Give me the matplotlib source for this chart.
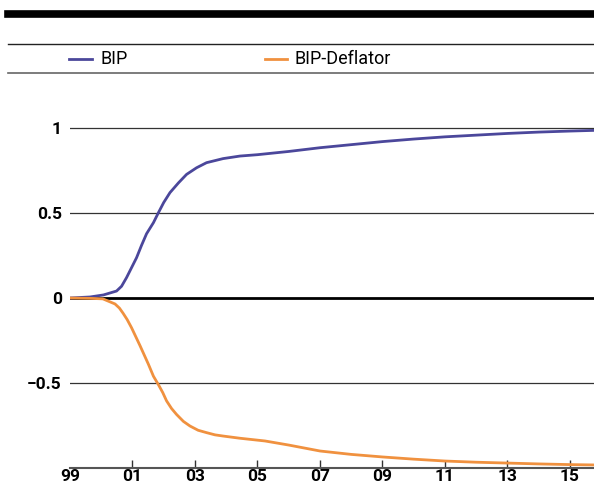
import matplotlib
matplotlib.use("Agg")
import matplotlib.pyplot as plt
from matplotlib import font_manager
from matplotlib.lines import Line2D

# years after 1999Q1
bip_years = [0, 0.64, 1.07, 1.49, 1.65, 1.81, 2.13, 2.29, 2.45, 2.67, 2.83, 3.0,
             3.2, 3.47, 3.73, 4.05, 4.37, 4.9, 5.44, 6, 7, 8, 9, 10, 11, 12, 13,
             14, 15, 16, 16.77]
bip = [0, 0.006, 0.018, 0.041, 0.069, 0.12, 0.237, 0.31, 0.378, 0.443, 0.502,
       0.562, 0.62, 0.677, 0.727, 0.766, 0.796, 0.82, 0.835, 0.843, 0.862, 0.884,
       0.902, 0.92, 0.935, 0.948, 0.958, 0.968, 0.976, 0.982, 0.986]
defl_years = [0, 0.64, 1.05, 1.44, 1.58, 1.7, 1.83, 1.97, 2.24, 2.51, 2.67, 2.83,
              2.97, 3.09, 3.25, 3.41, 3.63, 3.84, 4.1, 4.37, 4.64, 4.9, 5.44, 6.24,
              7, 8, 9, 10, 11, 12, 13, 14, 15, 16, 16.77]
deflator = [0, -0.002, -0.005, -0.035, -0.059, -0.09, -0.127, -0.175, -0.28, -0.39,
            -0.46, -0.51, -0.557, -0.605, -0.65, -0.685, -0.726, -0.753, -0.778,
            -0.792, -0.805, -0.812, -0.825, -0.841, -0.865, -0.9, -0.92, -0.935,
            -0.948, -0.959, -0.966, -0.971, -0.976, -0.98, -0.982]
xtick_pos = [0, 2, 4, 6, 8, 10, 12, 14, 16]
xtick_labels = ['99', '01', '03', '05', '07', '09', '11', '13', '15']
ytick_pos = [1, 0.5, 0, -0.5]
ytick_labels = ['1', '0.5', '0', '\u22120.5']

blue = '#4b479b'
orange = '#f0913f'

names = {f.name for f in font_manager.fontManager.ttflist}
font = [n for n in ['Roboto', 'Open Sans'] if n in names] + ['DejaVu Sans']

fig = plt.figure(figsize=(5.94, 4.9), dpi=100)
ax = fig.add_axes([70 / 594, 22 / 490, 524 / 594, 374 / 490])

for y in [1, 0.5, -0.5]:
    ax.axhline(y, color='#333333', lw=0.9, zorder=1)
ax.axhline(0, color='black', lw=2, zorder=1)

ax.plot(bip_years, bip, color=blue, lw=2, zorder=3)
ax.plot(defl_years, deflator, color=orange, lw=2, zorder=3)

ax.set_xlim(0, 16.77)
ax.set_ylim(-1.0, 1.2)
for s in ['top', 'right', 'left']:
    ax.spines[s].set_visible(False)
ax.spines['bottom'].set_color('#555555')
ax.spines['bottom'].set_linewidth(1.5)

ax.set_xticks(xtick_pos)
ax.set_xticklabels(xtick_labels)
ax.set_yticks(ytick_pos)
ax.set_yticklabels(ytick_labels)
ax.tick_params(axis='x', direction='in', length=6, width=1, color='#333333', pad=1)
ax.tick_params(axis='y', length=0, pad=6)
for lab in ax.get_xticklabels() + ax.get_yticklabels():
    lab.set_fontweight('bold')
    lab.set_fontsize(12.5)
    lab.set_family(font)
ax.get_xticklines()[0].set_visible(False)

# header rules and legend
fig.add_artist(Line2D([8 / 594, 1], [1 - 14 / 490] * 2, color='black', lw=5.5))
fig.add_artist(Line2D([8 / 594, 1], [1 - 44 / 490] * 2, color='#222222', lw=1))
fig.add_artist(Line2D([8 / 594, 1], [1 - 73 / 490] * 2, color='#666666', lw=1.2))
ly = 1 - 59 / 490
fig.add_artist(Line2D([69 / 594, 92 / 594], [ly, ly], color=blue, lw=2))
fig.text(101 / 594, ly, 'BIP', va='center', fontsize=13, family=font)
fig.add_artist(Line2D([265 / 594, 287 / 594], [ly, ly], color=orange, lw=2))
fig.text(294 / 594, ly, 'BIP-Deflator', va='center', fontsize=13, family=font)

fig.savefig('out.png', dpi=100)
